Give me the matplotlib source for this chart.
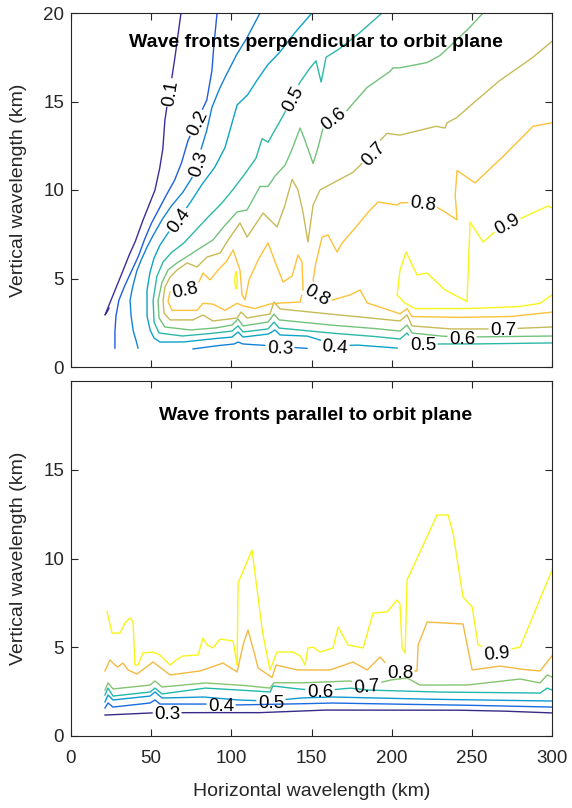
import numpy as np
import matplotlib
matplotlib.use("Agg")
import matplotlib.pyplot as plt

plt.rcParams['font.family'] = ['Liberation Sans', 'DejaVu Sans']

# ---------------- text / ticks ----------------
x_ticks = [0, 50, 100, 150, 200, 250, 300]
y_ticks_top = [0, 5, 10, 15, 20]
y_ticks_bottom = [0, 5, 10, 15]
title_top = 'Wave fronts perpendicular to orbit plane'
title_bottom = 'Wave fronts parallel to orbit plane'
x_label = 'Horizontal wavelength (km)'
y_label = 'Vertical wavelength (km)'

# ---------------- top panel contour lines (km) ----------------
top_01_x = [68.6, 65.5, 63.0, 60.5, 58.6, 57.4, 55.5, 52.4, 48.7, 44.9, 40.5, 36.8, 33.1, 29.3, 26.2, 23.7, 21.8, 21.2, 22.5, 23.7]
top_01_y = [20.0, 17.9, 16.4, 15.1, 14.0, 12.4, 11.3, 10.0, 9.15, 8.3, 7.18, 6.44, 5.59, 4.75, 4.07, 3.50, 3.05, 2.94, 3.11, 3.33]

top_02_x = [91.1, 89.2, 88.0, 84.8, 78.0, 73.0, 69.2, 64.9, 60.5, 55.5, 50.5, 46.2, 42.4, 38.1, 33.7, 29.9, 28.1, 27.4, 27.4]
top_02_y = [20.0, 18.3, 16.8, 15.1, 13.8, 12.8, 11.6, 10.6, 9.89, 9.04, 8.19, 7.29, 6.33, 5.48, 4.63, 3.79, 2.94, 2.09, 1.07]

top_03a_x = [117.9, 109.8, 103.6, 97.9, 93.0, 88.0, 84.8, 81.1, 78.6, 75.5, 69.9, 63.0, 57.4, 52.4, 48.0, 44.3, 41.2, 38.7, 36.8, 37.4, 38.7, 40.5, 41.8]
top_03a_y = [20.0, 18.6, 17.7, 16.7, 15.8, 14.7, 13.4, 12.3, 11.5, 10.7, 9.89, 9.15, 8.42, 7.63, 6.89, 6.16, 5.48, 4.63, 3.79, 2.94, 2.09, 1.53, 1.07]
top_03b_x = [76.1, 89.8, 101.7, 104.2, 107.3, 117.9, 130.4, 147.2]
top_03b_y = [1.02, 1.19, 1.30, 1.41, 1.30, 1.24, 1.16, 1.05]

top_04_x = [150.3, 139.7, 130.4, 122.9, 116.7, 110.4, 103.6, 99.8, 96.1, 89.8, 82.3, 75.5, 66.8, 60.5, 55.5, 51.8, 49.3, 47.4, 47.4, 49.3, 51.8, 55.5, 69.9, 86.7, 100.4, 104.2, 107.3, 122.9, 127.3, 130.4, 147.2, 157.2, 164.7, 178.4, 203.4]
top_04_y = [20.0, 18.9, 17.8, 17.1, 16.3, 15.4, 14.8, 13.6, 12.4, 11.3, 10.4, 9.44, 8.31, 7.57, 6.89, 6.16, 5.37, 4.35, 2.88, 2.09, 1.64, 1.41, 1.41, 1.58, 1.69, 1.98, 1.69, 1.86, 2.09, 1.81, 1.75, 1.47, 1.19, 1.24, 1.07]

top_05_x = [194.0, 180.3, 167.8, 159.1, 156.0, 152.8, 149.1, 142.9, 137.9, 132.9, 127.9, 122.9, 119.2, 115.4, 109.2, 101.7, 94.2, 86.7, 78.0, 70.5, 63.0, 57.4, 53.6, 51.2, 51.8, 54.9, 69.2, 83.6, 100.4, 104.2, 107.3, 122.9, 126.6, 129.8, 142.9, 161.6, 186.5, 205.2, 209.6, 212.7, 219.6, 248.9, 300.0]
top_05_y = [20.0, 18.9, 18.0, 17.5, 16.1, 17.3, 16.9, 16.1, 15.2, 14.3, 13.5, 12.7, 12.9, 11.8, 11.0, 10.1, 9.27, 8.59, 7.74, 7.01, 6.50, 5.93, 5.14, 3.79, 2.54, 1.92, 1.75, 1.86, 2.03, 2.32, 1.98, 2.15, 2.54, 2.20, 2.09, 1.92, 1.75, 1.58, 1.92, 1.53, 1.30, 1.30, 1.36]

top_06_x = [257.0, 248.9, 240.8, 230.2, 222.1, 205.2, 200.9, 199.0, 184.7, 172.2, 163.4, 157.2, 154.1, 151.0, 146.0, 142.9, 137.9, 133.5, 127.3, 122.9, 117.9, 109.8, 103.6, 96.1, 88.6, 80.5, 73.0, 66.8, 60.5, 56.8, 54.3, 54.9, 58.6, 74.2, 89.8, 100.4, 104.2, 107.3, 122.9, 126.6, 129.8, 142.9, 161.6, 186.5, 205.2, 209.6, 212.7, 230.2, 243.9, 300.0]
top_06_y = [20.0, 19.2, 18.5, 17.6, 17.2, 16.9, 16.9, 16.7, 15.8, 14.5, 14.1, 13.5, 12.4, 11.5, 12.8, 13.5, 12.3, 11.4, 10.8, 10.2, 10.2, 8.87, 8.76, 8.02, 7.18, 6.72, 6.27, 5.93, 5.48, 4.80, 3.79, 2.77, 2.26, 2.09, 2.20, 2.37, 2.71, 2.32, 2.54, 2.99, 2.66, 2.54, 2.37, 2.20, 2.03, 2.37, 1.92, 1.75, 1.69, 1.75]

top_07_x = [300.0, 288.2, 267.6, 253.3, 240.8, 234.6, 233.3, 227.7, 205.2, 197.1, 192.8, 187.8, 181.5, 175.9, 163.4, 155.3, 151.0, 147.8, 144.7, 141.6, 137.9, 133.5, 128.5, 124.1, 119.8, 114.8, 109.8, 105.4, 99.2, 93.0, 84.8, 78.6, 72.4, 66.1, 61.8, 58.6, 57.4, 58.0, 61.8, 76.1, 82.3, 88.6, 103.6, 106.1, 109.8, 124.1, 126.6, 130.4, 142.9, 161.6, 186.5, 205.2, 209.6, 212.7, 236.4, 269.5, 300.0]
top_07_y = [18.4, 17.5, 16.2, 15.1, 14.1, 13.8, 13.5, 13.6, 13.1, 13.2, 12.8, 12.1, 11.5, 11.0, 10.4, 10.0, 9.15, 7.06, 8.76, 10.0, 10.6, 9.15, 7.91, 8.31, 8.70, 8.02, 7.34, 8.14, 7.34, 6.44, 6.21, 5.65, 5.88, 5.48, 5.08, 4.52, 3.79, 3.05, 2.66, 2.66, 2.94, 2.60, 2.77, 3.11, 2.77, 2.99, 3.67, 3.28, 3.16, 2.99, 2.77, 2.60, 2.94, 2.32, 2.15, 2.15, 2.26]

top_08a_x = [300.0, 288.2, 270.7, 252.0, 240.8, 239.6, 240.8, 233.3, 225.8, 219.6, 205.2, 203.4, 191.5, 186.5, 177.2, 169.1, 165.9, 160.3, 156.6, 152.8, 151.0, 154.1, 163.4, 174.0, 180.3, 184.7, 199.0, 205.2, 209.6, 212.7, 242.7, 273.9, 300.0]
top_08a_y = [13.8, 13.6, 12.0, 10.4, 11.1, 9.72, 8.31, 8.76, 9.15, 9.32, 9.27, 9.15, 9.32, 8.87, 7.85, 7.01, 6.50, 7.46, 7.34, 5.93, 4.92, 4.12, 3.79, 4.07, 4.35, 3.62, 3.20, 3.00, 3.30, 2.85, 2.80, 2.85, 3.10]
top_08b_x = [61.8, 71.1, 79.2, 82.3, 86.7, 91.7, 96.7, 101.1, 105.4, 106.7, 108.5, 111.0, 116.7, 122.9, 127.3, 132.3, 137.9, 141.6, 144.1, 144.7, 142.9, 130.4, 124.1, 114.8, 107.3, 103.6, 96.1, 88.6, 82.3, 78.6, 63.0, 60.5, 61.8]
top_08b_y = [4.24, 4.41, 4.69, 5.31, 4.92, 5.48, 5.93, 6.61, 5.48, 4.07, 3.79, 4.92, 6.05, 7.01, 5.93, 4.80, 5.14, 6.33, 5.93, 4.35, 3.67, 3.62, 3.56, 3.30, 3.45, 3.60, 3.20, 3.55, 3.60, 3.20, 3.20, 3.70, 4.24]

top_09a_x = [300.0, 297.6, 281.4, 271.4, 265.8, 257.0, 248.9, 247.0, 233.3, 222.1, 215.8, 209.0, 205.2, 203.4, 208.4, 214.6, 247.0, 278.2, 292.6, 298.2, 300.0]
top_09a_y = [8.98, 9.10, 8.42, 8.14, 7.74, 7.06, 8.19, 3.70, 4.35, 5.31, 5.20, 6.50, 5.48, 4.07, 3.60, 3.30, 3.30, 3.40, 3.60, 3.95, 4.07]
top_09b_x = [102.9, 103.6, 103.6, 102.9, 102.2, 102.3, 102.9]
top_09b_y = [5.37, 5.03, 4.58, 4.41, 4.75, 5.14, 5.37]

# ---------------- bottom panel contour lines (km) ----------------
bot_03_x = [21.2, 49.3, 80.5, 116.0, 157.2, 205.2, 238.3, 267.6, 300.0]
bot_03_y = [1.18, 1.30, 1.32, 1.31, 1.46, 1.46, 1.46, 1.41, 1.30]

bot_04_x = [21.2, 23.1, 26.2, 49.3, 52.4, 55.5, 84.8, 103.6, 136.6, 161.6, 197.1, 238.3, 300.0]
bot_04_y = [1.58, 1.86, 1.63, 1.86, 2.03, 1.80, 1.80, 1.75, 1.80, 1.86, 1.80, 1.75, 1.63]

bot_05_x = [21.2, 23.1, 26.2, 49.3, 52.4, 56.8, 82.3, 103.6, 124.1, 142.9, 161.6, 217.7, 300.0]
bot_05_y = [1.92, 2.31, 2.03, 2.25, 2.48, 2.14, 2.20, 2.03, 1.97, 2.14, 2.20, 2.08, 1.97]

bot_06_x = [21.2, 23.1, 26.2, 49.3, 52.4, 56.8, 83.6, 105.4, 124.1, 126.0, 136.6, 155.3, 174.0, 184.6, 225.8, 292.6, 297.0, 300.0]
bot_06_y = [2.31, 2.70, 2.25, 2.48, 2.70, 2.37, 2.70, 2.59, 2.48, 2.82, 2.70, 2.54, 2.70, 2.59, 2.48, 2.42, 2.70, 2.59]

bot_07_x = [21.2, 23.1, 26.2, 49.3, 52.4, 56.8, 83.6, 105.4, 124.1, 126.6, 142.9, 174.0, 184.6, 199.0, 209.6, 217.7, 247.0, 280.1, 292.6, 297.0, 300.0]
bot_07_y = [2.59, 2.99, 2.65, 2.87, 3.10, 2.76, 2.99, 2.87, 2.70, 3.00, 2.99, 3.10, 2.82, 3.15, 3.27, 2.87, 2.87, 3.21, 2.99, 3.44, 3.32]

bot_08_x = [21.2, 24.3, 27.4, 29.3, 32.4, 35.6, 41.2, 51.2, 61.8, 80.5, 94.8, 103.6, 107.3, 110.4, 113.5, 116.7, 125.4, 127.9, 141.0, 161.6, 175.9, 184.7, 192.8, 199.0, 205.2, 215.8, 216.5, 222.1, 244.5, 250.2, 267.6, 280.1, 292.6, 298.8, 300.0]
bot_08_y = [3.66, 4.28, 4.00, 3.89, 4.11, 3.72, 3.49, 4.17, 3.44, 3.66, 4.11, 3.61, 5.13, 5.97, 4.96, 3.83, 3.30, 4.00, 3.72, 3.72, 4.17, 3.72, 4.45, 3.83, 3.66, 3.66, 5.13, 6.42, 6.31, 3.72, 3.94, 3.77, 3.66, 4.39, 4.51]

bot_09_x = [22.5, 25.6, 30.6, 33.7, 36.8, 38.7, 39.9, 41.8, 44.9, 51.2, 55.5, 61.8, 65.5, 69.9, 79.2, 82.3, 84.8, 88.6, 93.0, 101.1, 103.6, 104.2, 112.9, 119.2, 124.1, 128.5, 138.5, 142.9, 146.0, 147.8, 151.0, 155.3, 163.4, 166.6, 172.8, 182.2, 188.4, 197.1, 203.4, 205.2, 206.5, 208.4, 209.6, 228.3, 235.2, 238.3, 244.5, 250.2, 253.9, 265.8, 280.1, 300.0]
bot_09_y = [6.99, 5.80, 5.80, 6.37, 6.65, 6.42, 4.00, 4.00, 4.68, 4.73, 4.56, 4.00, 4.28, 4.51, 4.56, 5.52, 5.13, 4.96, 5.46, 5.35, 4.00, 8.62, 10.48, 5.97, 3.72, 4.73, 4.73, 4.51, 4.00, 4.96, 5.01, 4.73, 4.96, 6.14, 5.13, 4.96, 6.93, 6.99, 7.66, 7.44, 4.96, 4.68, 8.79, 12.45, 12.45, 11.44, 7.83, 7.27, 5.13, 4.73, 5.01, 9.35]

# ---------------- styling ----------------
top_colors = {1: (0.24, 0.18, 0.60), 2: (0.13, 0.36, 0.87), 3: (0.07, 0.51, 0.84),
              4: (0.05, 0.64, 0.78), 5: (0.17, 0.72, 0.65), 6: (0.45, 0.76, 0.48),
              7: (0.78, 0.73, 0.34), 8: (0.99, 0.76, 0.22), 9: (0.97, 0.96, 0.10)}
bot_colors = {3: (0.21, 0.17, 0.53), 4: (0.10, 0.42, 0.88), 5: (0.05, 0.60, 0.82),
              6: (0.13, 0.72, 0.68), 7: (0.52, 0.77, 0.44), 8: (0.95, 0.73, 0.25),
              9: (0.97, 0.96, 0.10)}

top_pieces = [(1, top_01_x, top_01_y), (2, top_02_x, top_02_y),
              (3, top_03a_x, top_03a_y), (3, top_03b_x, top_03b_y),
              (4, top_04_x, top_04_y), (5, top_05_x, top_05_y),
              (6, top_06_x, top_06_y), (7, top_07_x, top_07_y),
              (8, top_08a_x, top_08a_y), (8, top_08b_x, top_08b_y),
              (9, top_09a_x, top_09a_y), (9, top_09b_x, top_09b_y)]
bot_pieces = [(3, bot_03_x, bot_03_y), (4, bot_04_x, bot_04_y), (5, bot_05_x, bot_05_y),
              (6, bot_06_x, bot_06_y), (7, bot_07_x, bot_07_y), (8, bot_08_x, bot_08_y),
              (9, bot_09_x, bot_09_y)]

# label placements (level, x, y, rotation in degrees)
top_labels = [(1, 61.3, 15.5, 81), (2, 78.0, 13.8, 64), (3, 78.6, 11.5, 72),
              (4, 66.8, 8.31, 54), (5, 137.9, 15.2, 62), (6, 163.4, 14.1, 38),
              (7, 187.8, 12.1, 47), (8, 219.6, 9.32, -8), (9, 271.4, 8.14, 29),
              (8, 154.1, 4.12, -30), (8, 71.1, 4.41, 12),
              (3, 130.4, 1.16, -2), (4, 164.7, 1.19, -5), (5, 219.6, 1.30, 0),
              (6, 243.9, 1.69, 0), (7, 269.5, 2.15, 0)]
bot_labels = [(3, 59.9, 1.30, 0), (4, 93.6, 1.78, 0), (5, 124.8, 1.97, 0),
              (6, 155.3, 2.54, 0), (7, 184.6, 2.85, 5), (8, 205.2, 3.66, 0),
              (9, 265.8, 4.73, 5)]

axis_col = (0.15, 0.15, 0.15)

fig = plt.figure(figsize=(5.72, 8.08), dpi=100)
ax1 = fig.add_axes([71 / 572, 1 - 367 / 808, 481 / 572, 354 / 808])
ax2 = fig.add_axes([71 / 572, 1 - 736 / 808, 481 / 572, 355 / 808])


def style(ax, yt, show_x):
    ax.set_xlim(0, 300)
    ax.set_ylim(0, 20)
    ax.set_xticks(x_ticks)
    ax.set_yticks(yt)
    ax.tick_params(direction='in', top=True, right=True, length=5, width=0.8,
                   labelsize=13.5, colors=axis_col, pad=5)
    ax.tick_params(axis='x', labelbottom=show_x, pad=10)
    for s in ax.spines.values():
        s.set_color(axis_col)
        s.set_linewidth(0.8)
    ax.set_ylabel(y_label, fontsize=14, color=axis_col)
    ax.yaxis.set_label_coords(-0.092, 0.5)


def draw_panel(ax, pieces, labels, colors):
    T = ax.transData
    inv = T.inverted()
    for lev, xs, ys in pieces:
        P = T.transform(np.column_stack([xs, ys]).astype(float))
        chunks = []
        for a, b in zip(P[:-1], P[1:]):
            n = int(np.hypot(*(b - a)) / 0.4) + 1
            t = np.arange(n) / n
            chunks.append(a + t[:, None] * (b - a))
        chunks.append(P[-1:])
        D = np.vstack(chunks)
        keep = np.ones(len(D), bool)
        for llev, lx, ly, rot in labels:
            if llev != lev:
                continue
            c = T.transform((lx, ly))
            th = np.deg2rad(rot)
            d = D - c
            u = d[:, 0] * np.cos(th) + d[:, 1] * np.sin(th)
            v = -d[:, 0] * np.sin(th) + d[:, 1] * np.cos(th)
            keep &= ~((np.abs(u) < 15) & (np.abs(v) < 9))
        D[~keep] = np.nan
        Q = inv.transform(D)
        ax.plot(Q[:, 0], Q[:, 1], color=colors[lev], lw=1.0,
                solid_joinstyle='round')
    for llev, lx, ly, rot in labels:
        ax.text(lx, ly, '0.%d' % llev, rotation=rot, rotation_mode='anchor',
                ha='center', va='center_baseline', fontsize=13.5, color='black', zorder=5)


style(ax1, y_ticks_top, False)
style(ax2, y_ticks_bottom, True)
ax2.set_xlabel(x_label, fontsize=14, color=axis_col)
ax2.xaxis.set_label_coords(0.5, -0.133)

draw_panel(ax1, top_pieces, top_labels, top_colors)
draw_panel(ax2, bot_pieces, bot_labels, bot_colors)

ax1.text(0.509, 0.918, title_top, transform=ax1.transAxes, ha='center', va='center',
         fontsize=14, fontweight='bold', color='black')
ax2.text(0.509, 0.904, title_bottom, transform=ax2.transAxes, ha='center', va='center',
         fontsize=14, fontweight='bold', color='black')

fig.savefig('out.png', dpi=100, facecolor='white')
